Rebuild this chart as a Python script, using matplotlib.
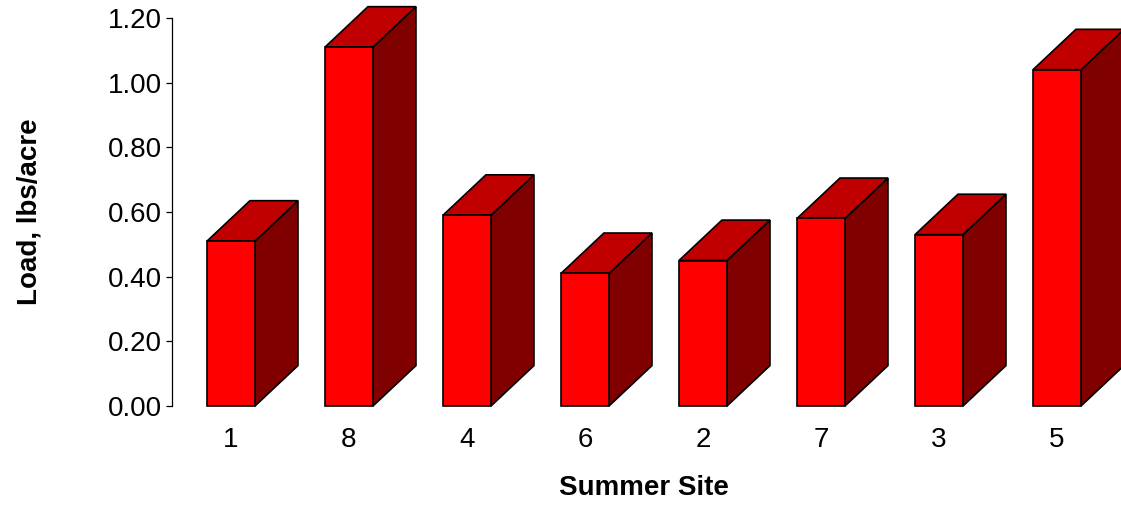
import matplotlib
matplotlib.use("Agg")
import matplotlib.pyplot as plt
from matplotlib.patches import Polygon
from matplotlib.ticker import FormatStrFormatter

plt.rcParams['font.family'] = ['Liberation Sans', 'DejaVu Sans']

sites = ["1", "8", "4", "6", "2", "7", "3", "5"]
load = [0.51, 1.11, 0.59, 0.41, 0.45, 0.58, 0.53, 1.04]

front_color = "#ff0000"
top_color = "#c00000"
side_color = "#800000"

fig = plt.figure(figsize=(11.21, 5.08), dpi=100)
ax = fig.add_axes([172 / 1121, 102 / 508, 944 / 1121, 388 / 508])

bar_w = 0.407
dx = 0.364
dy = 0.125

for i, v in enumerate(load):
    x0 = i - bar_w / 2
    x1 = i + bar_w / 2
    front = Polygon([(x0, 0), (x1, 0), (x1, v), (x0, v)], closed=True,
                    facecolor=front_color, edgecolor="black", lw=1.2, clip_on=False)
    side = Polygon([(x1, 0), (x1 + dx, dy), (x1 + dx, v + dy), (x1, v)], closed=True,
                   facecolor=side_color, edgecolor="black", lw=1.2, clip_on=False)
    top = Polygon([(x0, v), (x1, v), (x1 + dx, v + dy), (x0 + dx, v + dy)], closed=True,
                  facecolor=top_color, edgecolor="black", lw=1.2, clip_on=False)
    ax.add_patch(side)
    ax.add_patch(top)
    ax.add_patch(front)

ax.set_xlim(-0.5, 7.5)
ax.set_ylim(0, 1.2)
ax.set_yticks([0, 0.2, 0.4, 0.6, 0.8, 1.0, 1.2])
ax.yaxis.set_major_formatter(FormatStrFormatter("%.2f"))
ax.set_xticks(range(len(sites)))
ax.set_xticklabels(sites)

for s in ["top", "right", "bottom"]:
    ax.spines[s].set_visible(False)
ax.spines["left"].set_linewidth(0.9)

ax.tick_params(axis="y", length=4, width=0.9, pad=3, labelsize=20)
ax.tick_params(axis="x", length=0, pad=15, labelsize=20)

ax.set_xlabel("Summer Site", fontsize=20, fontweight="bold", labelpad=16)
ax.set_ylabel("Load, lbs/acre", fontsize=20, fontweight="bold", labelpad=47)

fig.savefig("out.png", dpi=100)
